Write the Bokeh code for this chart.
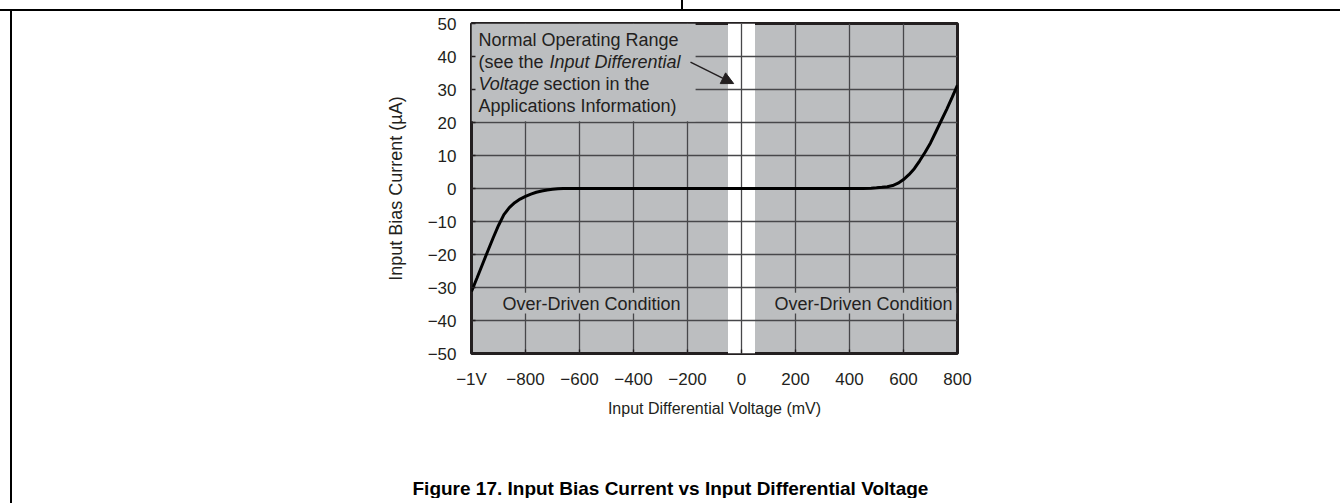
from bokeh.plotting import figure
from bokeh.models import (ColumnDataSource, FixedTicker, Arrow, NormalHead,
                          Div, Range1d, Title)
from bokeh.layouts import column, row
from bokeh.embed import file_html
from bokeh.resources import INLINE
from bokeh.core.properties import value

# ---------------- data ----------------
voltage_mv = [-1000, -980, -960, -940, -920, -900, -880, -860, -840, -820, -800,
              -780, -760, -740, -720, -700, -680, -660, -640, -400, 0, 400, 450,
              480, 500, 520, 540, 560, 580, 600, 620, 640, 660, 680, 700, 720,
              740, 760, 780, 800]
current_ua = [-31.2, -27.2, -23.1, -19.0, -15.0, -11.2, -7.9, -5.8, -4.3, -3.2, -2.4,
              -1.7, -1.15, -0.75, -0.45, -0.25, -0.1, -0.03, 0.0, 0.0, 0.0, 0.0, 0.0,
              0.1, 0.2, 0.35, 0.55, 0.9, 1.6, 2.7, 4.2, 6.0, 8.4, 11.0, 13.8, 17.2,
              20.6, 24.0, 27.6, 31.3]

x_ticks = [-1000, -800, -600, -400, -200, 0, 200, 400, 600, 800]
x_tick_labels = ["\u22121V", "\u2212800", "\u2212600", "\u2212400", "\u2212200",
                 "0", "200", "400", "600", "800"]
y_ticks = [-50, -40, -30, -20, -10, 0, 10, 20, 30, 40, 50]
y_tick_labels = ["\u221250", "\u221240", "\u221230", "\u221220", "\u221210",
                 "0", "10", "20", "30", "40", "50"]
normal_range_mv = [-50, 50]

x_label = "Input Differential Voltage (mV)"
y_label = "Input Bias Current (\u00b5A)"
title_text = "Figure 17. Input Bias Current vs Input Differential Voltage"
overdriven_text = "Over-Driven Condition"

# ---------------- style ----------------
FONT = "Liberation Sans"
INK = "#231f20"
GRAY = "#bcbec0"
GRID = "#47474a"

p = figure(width=1328, height=425, x_range=Range1d(-1000, 800),
           y_range=Range1d(-50, 50), output_backend="svg", toolbar_location=None,
           min_border_left=459, min_border_right=383, min_border_top=12,
           min_border_bottom=83)
p.background_fill_color = GRAY
p.border_fill_color = "white"
p.outline_line_color = INK
p.outline_line_width = 3

# axes
p.xaxis.ticker = FixedTicker(ticks=x_ticks)
p.xaxis.major_label_overrides = dict(zip(x_ticks, x_tick_labels))
p.yaxis.ticker = FixedTicker(ticks=y_ticks)
p.yaxis.major_label_overrides = dict(zip(y_ticks, y_tick_labels))
for ax in (p.xaxis, p.yaxis):
    ax.axis_line_color = None
    ax.major_tick_in = 4
    ax.major_tick_out = 0
    ax.major_tick_line_color = INK
    ax.major_tick_line_width = 1.3
    ax.minor_tick_line_color = None
    ax.major_label_text_font = FONT
    ax.major_label_text_font_size = "17px"
    ax.major_label_text_color = INK
    ax.axis_label_text_font = FONT
    ax.axis_label_text_font_style = "normal"
    ax.axis_label_text_color = INK
p.xaxis.major_label_standoff = 16
p.yaxis.major_label_standoff = 15
p.xaxis.axis_label = x_label
p.yaxis.axis_label = y_label
p.xaxis.axis_label_text_font_size = "16px"
p.yaxis.axis_label_text_font_size = "18px"
p.xaxis.axis_label_standoff = 8
p.yaxis.axis_label_standoff = 19

# grid
p.xgrid.ticker = FixedTicker(ticks=x_ticks)
p.ygrid.ticker = FixedTicker(ticks=y_ticks)
for g in (p.xgrid, p.ygrid):
    g.grid_line_color = GRID
    g.grid_line_width = 1.3

# white normal-operating band (below grid)
p.quad(left=[normal_range_mv[0]], right=[normal_range_mv[1]], bottom=[-50], top=[50],
       fill_color="white", line_color=None, level="image")

# gray masks hiding grid behind the annotation texts
p.quad(left=[-1000, -893, 112], right=[-170, -212, 795], bottom=[20.4, -37.9, -37.9],
       top=[50, -31.6, -31.6], fill_color=GRAY, line_color=None)

# curve
src = ColumnDataSource(dict(x=voltage_mv, y=current_ua))
p.line("x", "y", source=src, line_color="black", line_width=3)

# annotation text
txt = dict(text_font=value(FONT), text_font_size="18px", text_color=INK,
           text_baseline="middle", text_align="left")
p.text(x=[-974, -974, -974, -974], y=[44.9, 38.2, 31.8, 24.9],
       x_offset=[0, 0, 65, 0],
       text=["Normal Operating Range", "(see the ", "section in the",
             "Applications Information)"], **txt)
p.text(x=[-974, -974], y=[38.2, 31.8], x_offset=[71, 0],
       text=["Input Differential", "Voltage"], text_font_style="italic", **txt)
p.text(x=[-885, 122], y=[-34.9, -34.9], text=[overdriven_text, overdriven_text], **txt)

p.add_layout(Arrow(end=NormalHead(size=12, fill_color=INK, line_color=INK, line_width=1),
                   x_start=-189, y_start=38.3, x_end=-29, y_end=31.8,
                   line_color=INK, line_width=1.5))

# figure caption (separate strip below the chart)
cap = figure(width=1328, height=62, x_range=Range1d(0, 1), y_range=Range1d(0, 1),
             output_backend="svg", toolbar_location=None, x_axis_type=None,
             y_axis_type=None, min_border=0)
cap.outline_line_color = None
cap.background_fill_color = "white"
cap.border_fill_color = "white"
cap.grid.visible = False
cap.add_layout(Title(text=title_text, align="left", offset=-59, standoff=0,
                     text_font=FONT, text_font_size="19px", text_font_style="bold",
                     text_color="black"), "below")

# page frame lines
divider = Div(width=2, height=9, margin=(0, 0, 0, 681),
              styles={"background-color": "black"})
top_line = Div(width=1340, height=2, margin=(0, 0, 0, 0),
               styles={"background-color": "black"})
left_line = Div(width=2, height=492, margin=(0, 0, 0, 10),
                styles={"background-color": "black"})
layout = column(divider, top_line,
                row(left_line, column(p, cap, spacing=0), spacing=0), spacing=0)

open("out.html", "w").write(file_html(layout, INLINE))
